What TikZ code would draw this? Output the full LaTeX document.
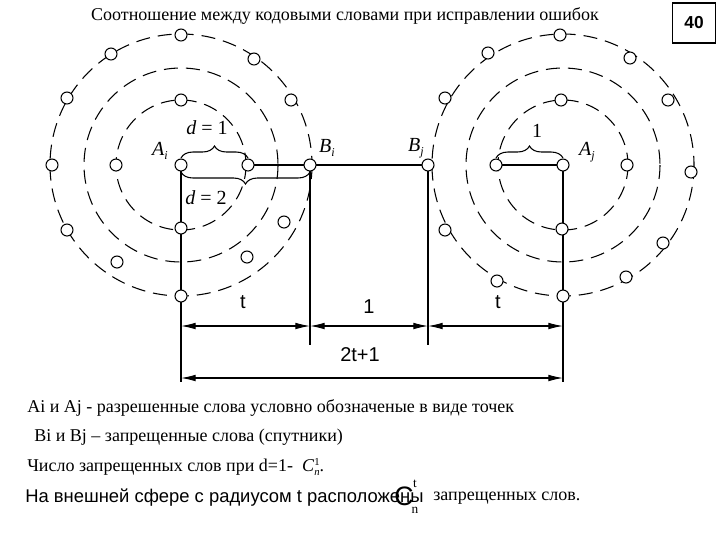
\documentclass[tikz,border=0pt]{standalone}
\usepackage{fontspec}
\setmainfont{Liberation Serif}
\setsansfont{Liberation Sans}
\usetikzlibrary{decorations.pathreplacing,arrows.meta}
\newcommand{\sbi}[2]{\textit{#1}\raisebox{-3pt}{\fontsize{9}{9}\selectfont\textit{#2}}}
\begin{document}
\begin{tikzpicture}[x=0.75pt,y=-0.75pt,
  pt/.style={circle,draw,fill=white,line width=0.8pt,minimum size=9pt,inner sep=0pt},
  ring/.style={dashed,dash pattern=on 10.5pt off 6pt,line width=0.8pt},
  ln/.style={line width=0.8pt},
  dim/.style={line width=0.8pt,{Latex[length=11pt,width=5pt]}-{Latex[length=11pt,width=5pt]}},
  lbl/.style={font=\fontsize{15}{17}\selectfont},
  txt/.style={anchor=west,inner sep=0pt,font=\fontsize{13.5}{15}\selectfont}]
\useasboundingbox (0,0) rectangle (720,540);
\foreach \cx in {181,563}{
  \draw[ring] (\cx,165) circle[radius=65];
  \draw[ring] (\cx,165) circle[radius=97];
  \draw[ring] (\cx,165) circle[radius=131];
}
\draw[ln] (248,165) -- (428,165);
\draw[ln] (496,165) -- (563,165);
\draw[ln] (181,165) -- (181,382);
\draw[ln] (563,165) -- (563,382);
\draw[ln] (310,165) -- (310,345);
\draw[ln] (428,165) -- (428,345);
\draw[dim] (181,326) -- (310,326);
\draw[dim] (310,326) -- (428,326);
\draw[dim] (428,326) -- (563,326);
\draw[dim] (181,378) -- (563,378);
\node[pt] (Ai) at (181,165) {};
\node[pt] (l1) at (248,165) {};
\node[pt] at (116,165) {};
\node[pt] at (181,100) {};
\node[pt] at (181,228) {};
\node[pt] (Bi) at (310,165) {};
\foreach \p in {(181,35),(111,54),(67,98),(52,165),(67,230),(117,262),(181,296),(247,257),(284,222),(291,100),(254,59)}
  \node[pt] at \p {};
\node[pt] (Aj) at (563,165) {};
\node[pt] (r1) at (496,165) {};
\node[pt] at (627,165) {};
\node[pt] at (561,100) {};
\node[pt] at (562,229) {};
\node[pt] (Bj) at (428,165) {};
\foreach \p in {(560,35),(488,53),(445,98),(445,230),(497,281),(563,296),(626,277),(663,243),(691,172),(668,100),(630,58)}
  \node[pt] at \p {};
\draw[ln,decorate,decoration={brace,amplitude=9pt}] (181,158) -- (248,158);
\draw[ln,decorate,decoration={brace,amplitude=9pt,mirror}] (181,172) -- (310,172);
\draw[ln,decorate,decoration={brace,amplitude=9pt}] (496,158) -- (563,158);
\node[lbl] at (207,128) {\textit{d} = 1};
\node[lbl] at (206,198) {\textit{d} = 2};
\node[lbl] at (537,131) {1};
\node[lbl] at (160,151) {\sbi{A}{i}};
\node[lbl] at (327,148) {\sbi{B}{i}};
\node[lbl] at (416,148) {\sbi{B}{j}};
\node[lbl] at (587,152) {\sbi{A}{j}};
\node[font=\sffamily\fontsize{15}{17}\selectfont] at (243,302) {t};
\node[font=\sffamily\fontsize{15}{17}\selectfont] at (498,302) {t};
\node[font=\sffamily\fontsize{15}{17}\selectfont] at (369,307) {1};
\node[font=\sffamily\fontsize{15}{17}\selectfont] at (360,355) {2t+1};
\node[font=\fontsize{13.5}{15}\selectfont] at (345,16) {Соотношение между кодовыми словами при исправлении ошибок};
\node[draw,line width=1pt,minimum width=32pt,minimum height=30pt,font=\sffamily\bfseries\fontsize{13}{14}\selectfont] at (694,23) {40};
\node[txt] at (27,408) {Ai и Aj - разрешенные слова условно обозначеные в виде точек};
\node[txt] at (34,437) {Bi и Bj – запрещенные слова (спутники)};
\node[txt] at (27,467) {Число запрещенных слов при d=1- \ \textit{C}\raisebox{-3pt}{\fontsize{8}{8}\selectfont\textit{n}}\raisebox{5pt}{\hspace{-4pt}\fontsize{8}{8}\selectfont 1}.};
\node[txt,font=\sffamily\fontsize{13.8}{15}\selectfont] at (25,498) {На внешней сфере с радиусом t расположены};
\node[font=\sffamily\fontsize{20}{20}\selectfont] at (404,496) {C};
\node[font=\fontsize{10}{10}\selectfont] at (415,484) {t};
\node[font=\fontsize{10}{10}\selectfont] at (415,510) {n};
\node[txt] at (433,498) {запрещенных слов.};
\end{tikzpicture}
\end{document}
